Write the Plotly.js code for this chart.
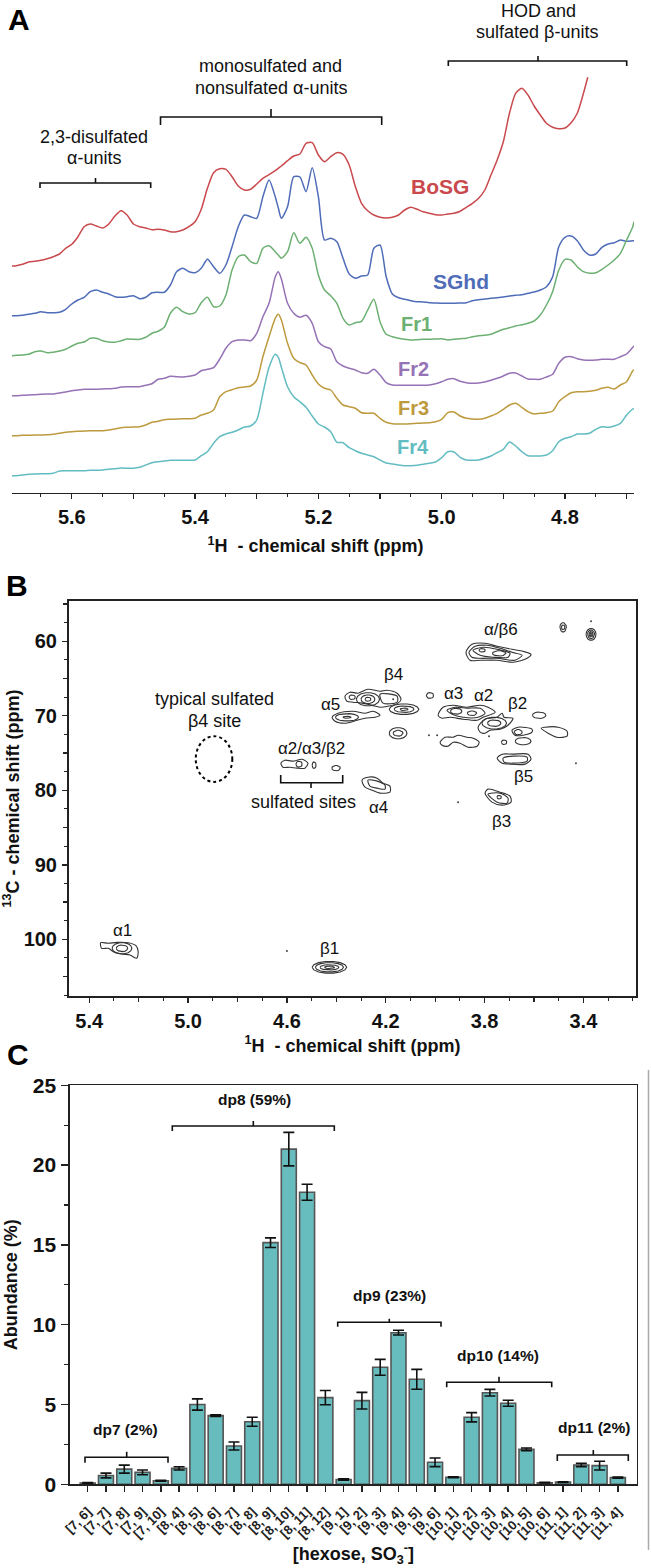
<!DOCTYPE html>
<html><head><meta charset="utf-8">
<script src="https://cdn.plot.ly/plotly-3.0.1.min.js"></script>
<style>html,body{margin:0;padding:0;background:#fff}</style></head>
<body><div id="chart" style="width:651px;height:1568px"></div>
<script>
// ---------- Panel A: 1H spectra ----------
const shiftPpm=[5.698,
5.69,5.68,5.67,5.66,5.65,5.64,5.63,5.62,5.61,5.60,
5.59,5.58,5.57,5.56,5.55,5.54,5.53,5.52,5.51,5.50,
5.49,5.48,5.47,5.46,5.45,5.44,5.43,5.42,5.41,5.40,
5.39,5.38,5.37,5.36,5.35,5.34,5.33,5.32,5.31,5.30,
5.29,5.28,5.27,5.265,5.26,5.25,5.24,5.23,5.22,5.21,5.20,
5.19,5.18,5.17,5.16,5.15,5.14,5.13,5.12,5.11,5.10,
5.09,5.08,5.07,5.06,5.05,5.04,5.03,5.02,5.01,5.00,
4.99,4.98,4.97,4.96,4.95,4.94,4.93,4.92,4.91,4.90,
4.89,4.88,4.87,4.86,4.85,4.84,4.83,4.82,4.81,4.80,
4.79,4.78,4.77,4.76,4.75,4.74,4.73,4.72,4.71,4.70,
4.69,4.688];
const bosgEndPpm=4.763;
const bosg=[227,
227.3,228.7,231,231.7,232.7,234.3,236.3,239,244.7,248.7,
256.3,266.3,269,267,265,269,277,282.3,277.7,269,
266.3,265,263.3,263.7,263,261.3,261.3,263,266.3,271.3,
283.7,304.7,320.3,324.3,323.7,316.3,307,303,303.7,309,
314.7,318.3,322.3,324.7,327,332.3,337,339,349.7,350.3,338,
331.3,336.3,340.3,338.7,328,306.3,289.7,282.3,278,275.7,
275,275.7,278,283,285.7,283.7,281.3,279.7,278.3,278,
279,279.7,281.7,285.7,289.7,294.7,303,318,333,351.3,
379.7,399.7,404.7,398,387,378,369.7,365.7,364.3,365,
370.3,379.7,399.7,415.7];
const sghd=[177.3,
177.3,177.7,178.7,179.7,181.3,180.3,180.3,180.7,183.7,189,
193,195.7,201.3,203,200.7,199,196.3,195.7,196.3,197.3,
194.3,195.7,200.3,200.7,200.7,208,221.3,224.7,221.3,220.3,
224.7,233.7,226.3,219.7,228,246.3,266.3,278,276.3,274.7,
296.3,313,296.3,285,274.7,286.3,316.3,316,301.3,325.3,296.3,
253,254.7,251.3,234.7,219,214.7,217,218,244.7,248,
216.3,199,195.3,193.7,192.3,191.3,191,190.3,190,189.7,
189.7,189.7,190,190.3,192.3,193.3,194,194.7,195.3,196,
197,197.7,198.3,199.7,201,203,206.3,216.3,246.3,255.7,
257,252.3,243,238,239,245.7,249,250.3,253,251.7,
252.3,252.3];
const fr1=[137.3,
137.7,138,138.7,141.3,142,140.3,140.7,142,143.7,147,
149.7,151,154.7,154.7,152.3,151,150.7,152.3,154,153.7,
153.7,155.7,159.7,161.7,165.7,179.7,185.7,181.3,179,180.3,
190.3,195.7,186.3,187,198,223,236.3,238,231.3,229.7,
244.7,247.3,241.3,238,234.7,241.3,260.3,249.7,255.7,244.7,218,
203,197.3,189.7,174.7,168,170.3,171.7,183,193.7,171.3,
158.7,156.3,154.7,153.7,153,153.3,153.7,153.7,154,154.3,
153,153.7,154.3,154.7,156.3,157.3,157.7,158.7,161.3,163.7,
165.3,167,168.3,169.7,172,178,188,201.3,223,233.7,
233,226.3,221.3,219.7,220.3,223.7,228,233,239.7,253,
266.3,271.3];
const fr2=[97.3,
97.3,97.7,98,98.3,98.7,99,99,100,101,102.3,
103,103.7,103.7,103.7,104,104.3,104.7,106,106.3,106.3,
106.3,107.7,109.3,113.7,114.7,116.7,116.3,116,116.7,118,
122.3,123.7,125.3,134,144.7,151.3,153,153,152.3,159.7,
176.3,189.7,216,221.3,214,189.7,179.7,175.7,177.7,169.7,151.3,
146.3,144,131.3,127,124.7,123,120.3,119.7,123.7,118,
110.3,108,107.7,107.7,107.7,107.7,107.7,108,109.3,111.3,
113.7,114.3,111.7,110.3,109.7,110,111,112.7,114.7,117,
119.7,120,117,114,113.7,113.7,116,118.7,129.7,135.7,
136.3,134.3,133,132.7,133,133.7,133.7,133.7,136.3,139,
145.7,147];
const fr3=[57.3,
57.3,57.7,57.7,58,58,58.3,58.7,59.7,60.7,61.3,
61.7,62,62.3,62.3,62.3,63,64,65.3,65.7,66,
66.3,68,70.7,71.7,73.3,73.7,74,74.3,74.3,74.7,
78,79.7,83,96.3,101.3,103.3,105.3,106,107,113,
136.3,156.3,174.7,178.7,173,149.7,134.7,130.3,128,118,109,
104.7,103,94.7,88,86.3,84.7,80.3,79.7,79.7,74.7,
70.7,69.3,69,69,69.3,69.7,70,70.3,71.3,73.7,
80.3,81,77,74.7,74,73.7,74.7,77,79.7,83.7,
88,89.7,85.7,81.3,79,79.7,80.3,82,91.3,96.3,
100.3,101.3,101.3,101.7,102.7,104.7,105.7,104,108,111.3,
122.3,123];
const fr4=[17.3,
17.3,18,18.7,19,19.3,19.3,19.7,22,22.3,22.3,
22.3,22.3,22.7,22.7,23,23.7,24.3,25,24.7,24.7,
25.7,28,30.3,31.3,32,32.7,32.7,32.7,32.7,33,
37.3,41.3,49.7,56.3,59,60.7,63,66,67,73,
99.7,125.7,138.7,135.7,125.7,106.3,96.3,91.3,85.7,77,69,
66,61.3,50.7,50.3,45.3,42.3,39.7,38,36.3,33,
30,29,28,27.3,27.3,27.7,28.7,29.7,31,35.3,
41.3,41,35.7,33,32.7,33,34.7,37,40.3,43.7,
51,47,41.3,37.3,37,37,38,42.3,51.3,54.7,
56.3,59,59,59.7,63.7,66.3,65.7,67,69.7,78,
84,84.7];
const seriesColors={BoSG:'#c9494d',SGhd:'#4f6cb8',Fr1:'#6cb072',Fr2:'#9672b6',Fr3:'#bd9a3d',Fr4:'#63bcc1'};

// ---------- Panel B: 2D contours, each loop as [1H ppm, 13C ppm] ----------
const contourLoops=[
[[5.354,100.45],[5.323,100.53],[5.289,100.4],[5.242,100.45],[5.211,100.85],[5.202,101.65],[5.208,102.54],[5.235,102.1],[5.269,101.96],[5.303,101.65],[5.323,101.2],[5.35,101.2]],
[[4.365,67.37],[4.345,66.84],[4.312,66.97],[4.272,66.44],[4.223,66.7],[4.195,66.57],[4.154,66.97],[4.138,67.78],[4.15,68.3],[4.191,68.72],[4.223,68.85],[4.255,68.6],[4.296,68.3],[4.332,68.18],[4.357,68.05]],
[[4.223,67.1],[4.154,67.37],[4.154,68.18],[4.211,68.3]],
[[4.417,70.2],[4.393,69.66],[4.332,69.39],[4.284,69.66],[4.251,69.39],[4.223,69.93],[4.243,70.2],[4.284,70.33],[4.316,70.6],[4.365,71.0],[4.405,70.73]],
[[3.98,73.55],[3.96,72.88],[3.927,72.88],[3.907,72.61],[3.871,72.88],[3.846,73.01],[3.822,73.55],[3.83,74.08],[3.867,74.22],[3.899,73.68],[3.927,73.55],[3.948,74.08],[3.972,73.95]],
[[4.624,76.36],[4.608,75.96],[4.575,76.09],[4.539,75.83],[4.515,76.36],[4.527,77.03],[4.559,77.03],[4.587,76.9],[4.616,76.9]],
[[4.296,78.64],[4.272,78.24],[4.235,78.37],[4.211,79.04],[4.183,79.44],[4.183,80.25],[4.223,80.38],[4.255,79.98],[4.284,79.58]],
[[4.272,78.64],[4.235,78.77],[4.203,79.31],[4.203,79.84],[4.235,79.71],[4.264,79.44]],
[[3.875,61.48],[3.851,60.41],[3.798,60.27],[3.749,60.68],[3.689,61.08],[3.644,61.35],[3.612,61.75],[3.628,62.29],[3.685,62.82],[3.749,62.55],[3.818,62.55],[3.859,62.55]],
[[3.863,61.48],[3.838,60.68],[3.79,60.54],[3.737,60.95],[3.689,61.48],[3.648,61.88],[3.677,62.55],[3.749,62.29],[3.818,62.29],[3.851,62.15]],
[[3.847,61.21],[3.806,60.81],[3.749,61.08],[3.697,61.62],[3.705,62.15],[3.766,62.15],[3.818,61.88]],
[[3.988,69.93],[3.968,68.85],[3.927,68.58],[3.871,68.85],[3.818,68.58],[3.786,68.85],[3.757,69.52],[3.806,70.2],[3.83,70.6],[3.887,70.46],[3.94,70.2],[3.972,70.33]],
[[3.952,69.25],[3.919,68.85],[3.871,68.99],[3.818,68.99],[3.798,69.66],[3.826,70.2],[3.887,70.2],[3.931,69.79]],
[[3.826,71.53],[3.798,70.46],[3.749,70.2],[3.729,69.66],[3.721,70.2],[3.685,70.33],[3.705,71.27],[3.737,71.8],[3.778,71.94],[3.798,72.34],[3.818,72.2]],
[[3.689,71.94],[3.664,71.53],[3.608,71.8],[3.608,72.2],[3.644,72.61],[3.677,72.61]],
[[3.571,71.67],[3.555,71.53],[3.502,71.53],[3.466,72.07],[3.466,72.74],[3.507,72.88],[3.543,72.34]],
[[3.749,75.69],[3.729,75.15],[3.685,75.15],[3.624,75.15],[3.612,75.83],[3.636,76.49],[3.697,76.49],[3.729,76.36]],
[[3.725,75.69],[3.685,75.42],[3.628,75.56],[3.628,76.09],[3.685,76.36],[3.721,76.22]],
[[3.798,80.38],[3.786,79.84],[3.737,80.25],[3.697,80.78],[3.693,81.59],[3.729,81.99],[3.77,81.59]],
[[3.786,80.52],[3.737,80.38],[3.705,81.05],[3.709,81.72],[3.749,81.59]]
];
// Oval contour rings: [1H centre, 13C centre, 1H half-width, 13C half-height]
const contourRings=[
[5.2675,101.2,.023,.45],[5.2675,101.2,.04,.76],
[4.272,67.78,.047,.9],[4.272,67.78,.028,.58],[4.272,67.78,.012,.27],[4.336,67.51,.013,.31],
[4.357,70.2,.047,.5],[4.357,70.2,.016,.13],
[4.126,69.12,.06,.71],[4.126,69.12,.04,.44],[4.126,69.12,.016,.17],
[4.021,67.28,.015,.4],[4.15,72.34,.036,.76],[4.15,72.34,.02,.4],
[4.551,76.49,.013,.4],[4.49,76.63,.008,.44],[4.401,77.03,.017,.36],
[3.81,61.21,.013,.23],[3.741,61.62,.027,.36],
[3.482,58.13,.013,.63],[3.482,58.13,.007,.31],
[3.369,59.07,.02,.8],[3.369,59.07,.014,.58],[3.369,59.07,.008,.36],[3.369,59.07,.004,.2],
[3.915,69.39,.023,.4],[3.851,69.66,.019,.31],
[3.761,70.99,.05,.8],[3.761,70.99,.027,.44],
[3.579,69.93,.027,.44],[3.664,72.2,.016,.36],[3.721,73.55,.011,.31],[3.644,73.41,.032,.5],
[3.741,80.92,.009,.23],
[4.428,103.75,.07,.8],[4.428,103.75,.057,.63],[4.428,103.75,.038,.36],[4.428,103.75,.02,.17]
];
const speckH=[3.992,3.43,3.907,4.025,3.782,4.6,3.369,4.17];
const speckC=[72.61,76.36,81.59,72.61,72.74,101.56,57.33,67.78];
const sulfatedSiteOval={h0:4.969,h1:4.821,c0:72.74,c1:78.87};
const peakLabels=[['α/β6',501,629],['β4',393,674],['α5',330,704],['α3',453,693],['α2',483,695],['β2',517,703],['β5',523,776],['β3',501,821],['α4',378,807],['α2/α3/β2',311,748],['α1',123,930],['β1',329,948]];
const noteLabels=[['sulfated sites',303,802],['typical sulfated',214,699],['β4 site',214,721]];

// ---------- Panel C: bars ----------
const compositions=['[7, 6]','[7, 7]','[7, 8]','[7, 9]','[7, 10]','[8, 4]','[8, 5]','[8, 6]','[8, 7]','[8, 8]','[8, 9]','[8, 10]','[8, 11]','[8, 12]','[9, 1]','[9, 2]','[9, 3]','[9, 4]','[9, 5]','[9, 6]','[10, 1]','[10, 2]','[10, 3]','[10, 4]','[10, 5]','[10, 6]','[11, 1]','[11, 2]','[11, 3]','[11, 4]'];
const abundance=[0.08,0.55,0.95,0.75,0.22,1.0,5.0,4.3,2.4,3.92,15.14,21.0,18.3,5.43,0.3,5.24,7.33,9.5,6.58,1.38,0.44,4.2,5.74,5.08,2.19,0.1,0.14,1.21,1.17,0.42];
const abundanceErr=[0.03,0.15,0.25,0.15,0.03,0.1,0.35,0.05,0.25,0.28,0.3,1.05,0.5,0.45,0.05,0.52,0.5,0.15,0.62,0.27,0.03,0.29,0.21,0.19,0.08,0.02,0.02,0.1,0.27,0.03];

// ---------- Layout annotations and brackets (page pixels) ----------
const W=651,H=1568;
const pxX=x=>x/W, pxY=y=>1-y/H;
const FONT='"Liberation Sans",Arial,sans-serif';
const panelLetters=[['A',19,19],['B',17,585],['C',18,1054]];
const regionLabels=[['monosulfated and',270,66],['nonsulfated α-units',271,88],['2,3-disulfated',94,137],['α-units',94,158],['HOD and',538,11],['sulfated β-units',537,32]];
const spectrumLabels=[['BoSG',440,187,'BoSG',21],['SGhd',461,282,'SGhd',21],['Fr1',416,324,'Fr1',20],['Fr2',413,369,'Fr2',20],['Fr3',413,408,'Fr3',20],['Fr4',413,447,'Fr4',20]];
const dpLabels=[['dp7 (2%)',125,1429],['dp8 (59%)',254,1099],['dp9 (23%)',389,1295],['dp10 (14%)',498,1355],['dp11 (2%)',594,1427]];
// [left, right, bar y, foot y, tip x, tip y]
const brackets=[
[40,150.7,183,188,95.5,178],[160.5,381.7,117,125,271,109],[448.3,626.7,61,66,538,56],
[280.7,342.7,782.7,775,311,788],
[85,168,1457.3,1462.7,126.7,1451.7],[172.3,334.3,1126,1131,253.3,1121],[337.7,441,1322.3,1326.7,389.3,1318.7],[446.7,551.7,1382.3,1387.3,499,1376.7],[557.3,628.3,1455,1461,593.3,1450]
];

const ann=(text,x,y,size,weight,color)=>({text:weight?`<b>${text}</b>`:text,x:pxX(x),y:pxY(y),xref:'paper',yref:'paper',xanchor:'center',yanchor:'middle',showarrow:false,font:{family:FONT,size,color:color||'#111'}});
const annotations=[
...panelLetters.map(a=>ann(a[0],a[1],a[2],30,true,'#000')),
...regionLabels.map(a=>ann(a[0],a[1],a[2],18,false)),
...spectrumLabels.map(a=>ann(a[0],a[1],a[2],a[4],true,seriesColors[a[3]])),
...peakLabels.map(a=>ann(a[0],a[1],a[2],17,false)),
...noteLabels.map(a=>ann(a[0],a[1],a[2],18,false)),
...dpLabels.map(a=>ann(a[0],a[1],a[2],15.5,true))
];
const shapes=brackets.map(b=>({type:'path',xref:'paper',yref:'paper',line:{color:'#111',width:1.6},
 path:`M ${pxX(b[0])} ${pxY(b[3])} L ${pxX(b[0])} ${pxY(b[2])} L ${pxX(b[1])} ${pxY(b[2])} L ${pxX(b[1])} ${pxY(b[3])} M ${pxX(b[4])} ${pxY(b[2])} L ${pxX(b[4])} ${pxY(b[5])}`}));
shapes.push({type:'circle',xref:'x2',yref:'y2',x0:sulfatedSiteOval.h0,x1:sulfatedSiteOval.h1,y0:sulfatedSiteOval.c0,y1:sulfatedSiteOval.c1,line:{color:'#000',width:2,dash:'dot'}});
shapes.push({type:'line',xref:'paper',yref:'paper',x0:pxX(648.5),x1:pxX(648.5),y0:pxY(1070),y1:pxY(1550),line:{color:'#aaa',width:1.5}});

// ---------- Traces ----------
const spec=(name,vals,x)=>({type:'scatter',mode:'lines',x:x||shiftPpm,y:vals,name,xaxis:'x',yaxis:'y',line:{color:seriesColors[name],width:1.5,shape:'spline',smoothing:0.7},hoverinfo:'skip'});
const bosgX=shiftPpm.slice(0,bosg.length-1).concat([bosgEndPpm]);
const traces=[spec('BoSG',bosg,bosgX),spec('SGhd',sghd),spec('Fr1',fr1),spec('Fr2',fr2),spec('Fr3',fr3),spec('Fr4',fr4)];

const loopX=[],loopY=[];
contourLoops.forEach(l=>{l.concat([l[0]]).forEach(p=>{loopX.push(p[0]);loopY.push(p[1]);});loopX.push(null);loopY.push(null);});
traces.push({type:'scatter',mode:'lines',x:loopX,y:loopY,xaxis:'x2',yaxis:'y2',line:{color:'#333',width:1.1,shape:'spline',smoothing:0.8},hoverinfo:'skip',connectgaps:false});
const ringX=[],ringY=[];
contourRings.forEach(r=>{for(let k=0;k<=14;k++){const t=2*Math.PI*k/14;ringX.push(r[0]+r[2]*Math.cos(t));ringY.push(r[1]+r[3]*Math.sin(t));}ringX.push(null);ringY.push(null);});
traces.push({type:'scatter',mode:'lines',x:ringX,y:ringY,xaxis:'x2',yaxis:'y2',line:{color:'#333',width:1.1},hoverinfo:'skip',connectgaps:false});
traces.push({type:'scatter',mode:'markers',x:speckH,y:speckC,xaxis:'x2',yaxis:'y2',marker:{color:'#444',size:2},hoverinfo:'skip'});

traces.push({type:'bar',x:compositions,y:abundance,xaxis:'x3',yaxis:'y3',width:0.82,marker:{color:'#67bdbd',line:{color:'#555',width:1.6}},
 error_y:{type:'data',array:abundanceErr,visible:true,color:'#111',thickness:1.6,width:5.5},hoverinfo:'skip'});

// Unlabelled mid-level ticks live on overlay axes, carried by empty helper traces.
const midA=[5.5,5.3,5.1,4.9,4.7], midBx=[5.2,4.8,4.4,4.0,3.6], midBy=[55,65,75,85,95,105];
traces.push({type:'scatter',mode:'none',x:[midA[0]],y:[1],xaxis:'x4',yaxis:'y',hoverinfo:'skip'});
traces.push({type:'scatter',mode:'none',x:[midBx[0]],y:[midBy[1]],xaxis:'x5',yaxis:'y2',hoverinfo:'skip'});
traces.push({type:'scatter',mode:'none',x:[midBx[0]],y:[midBy[1]],xaxis:'x2',yaxis:'y4',hoverinfo:'skip'});

// ---------- Axes ----------
const tickFont={family:FONT,size:20,color:'#111',weight:'bold'};
const titleFont={family:FONT,size:18,color:'#111'};
const rangeA=[5.697,4.688], rangeBx=[5.482,3.187], rangeBy=[107.6,54.6];
const domA=[12/W,634/W], domBx=[69/W,636/W], domBy=[1-996/H,1-601/H];
const midAxis=(vals,extra)=>Object.assign({tickmode:'array',tickvals:vals,showticklabels:false,ticks:'outside',ticklen:5,tickwidth:1.2,tickcolor:'#222',showgrid:false,zeroline:false,showline:false},extra);
const layout={width:W,height:H,margin:{l:0,r:0,t:0,b:0},paper_bgcolor:'#fff',plot_bgcolor:'rgba(0,0,0,0)',showlegend:false,annotations,shapes,
 xaxis:{domain:domA,range:rangeA,anchor:'y',showgrid:false,zeroline:false,showline:true,linecolor:'#222',linewidth:1.4,ticks:'outside',ticklen:5,tickwidth:1.2,tickcolor:'#222',
  tickmode:'array',tickvals:[5.6,5.4,5.2,5.0,4.8],ticktext:['5.6','5.4','5.2','5.0','4.8'],tickfont:tickFont,ticklabelstandoff:1,
  minor:{ticks:'outside',ticklen:3,tickwidth:1,tickcolor:'#222',tickmode:'linear',tick0:5.65,dtick:0.05,showgrid:false},
  title:{text:'<b><sup>1</sup>H  - chemical shift (ppm)</b>&nbsp;&nbsp;&nbsp;',font:titleFont,standoff:12}},
 xaxis4:midAxis(midA,{domain:domA,range:rangeA,anchor:'y',overlaying:'x'}),
 yaxis:{domain:[1-493/H,1],range:[0,493],anchor:'x',visible:false,fixedrange:true},
 xaxis2:{domain:domBx,range:rangeBx,anchor:'y2',showgrid:false,zeroline:false,showline:true,mirror:true,linecolor:'#222',linewidth:2,ticks:'outside',ticklen:5,tickwidth:1.4,tickcolor:'#222',
  tickmode:'array',tickvals:[5.4,5.0,4.6,4.2,3.8,3.4],ticktext:['5.4','5.0','4.6','4.2','3.8','3.4'],tickfont:tickFont,ticklabelstandoff:1,
  minor:{ticks:'outside',ticklen:3,tickwidth:1,tickcolor:'#222',tickmode:'linear',tick0:5.4,dtick:0.1,showgrid:false},
  title:{text:'<b><sup>1</sup>H  - chemical shift (ppm)</b>',font:titleFont,standoff:8}},
 xaxis5:midAxis(midBx,{domain:domBx,range:rangeBx,anchor:'y2',overlaying:'x2'}),
 yaxis2:{domain:domBy,range:rangeBy,anchor:'x2',showgrid:false,zeroline:false,showline:true,mirror:true,linecolor:'#222',linewidth:2,ticks:'outside',ticklen:5,tickwidth:1.4,tickcolor:'#222',
  tickmode:'array',tickvals:[60,70,80,90,100],ticktext:['60','70','80','90','100'],tickfont:tickFont,ticklabelstandoff:1,
  minor:{ticks:'outside',ticklen:3,tickwidth:1,tickcolor:'#222',tickmode:'linear',tick0:52.5,dtick:2.5,showgrid:false},
  title:{text:'<b><sup>13</sup>C - chemical shift (ppm)</b>',font:titleFont,standoff:8}},
 yaxis4:midAxis(midBy,{domain:domBy,range:rangeBy,anchor:'x2',overlaying:'y2',side:'left'}),
 xaxis3:{domain:[70/W,636.7/W],type:'category',categoryorder:'array',categoryarray:compositions,range:[-0.968,30.03],anchor:'y3',showgrid:false,zeroline:false,showline:true,mirror:true,linecolor:'#222',linewidth:1.6,ticks:'outside',ticklen:6,tickwidth:1.4,tickcolor:'#222',
  tickangle:-45,tickfont:{family:FONT,size:13,color:'#222',weight:'bold'},ticklabelstandoff:7,
  title:{text:'<b>[hexose, SO<sub>3</sub><sup>-</sup>]</b>',font:titleFont,standoff:6}},
 yaxis3:{domain:[1-1484.3/H,1-1085.3/H],range:[0,25],anchor:'x3',showgrid:false,zeroline:false,showline:true,mirror:true,linecolor:'#222',linewidth:1.6,ticks:'outside',ticklen:7,tickwidth:1.6,tickcolor:'#222',
  tickmode:'array',tickvals:[0,5,10,15,20,25],tickfont:{family:FONT,size:21,color:'#111',weight:'bold'},ticklabelstandoff:1,
  minor:{ticks:'outside',ticklen:4,tickwidth:1.2,tickcolor:'#222',tickmode:'linear',tick0:2.5,dtick:5,showgrid:false},
  title:{text:'<b>Abundance (%)</b>',font:titleFont,standoff:10}}
};
Plotly.newPlot('chart',traces,layout,{staticPlot:true,displayModeBar:false});
</script></body></html>
